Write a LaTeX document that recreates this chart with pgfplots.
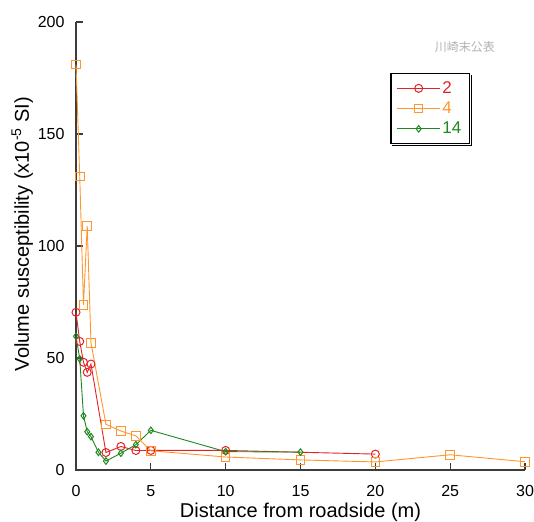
\documentclass[border=0pt]{standalone}
\usepackage{pgfplots}
\pgfplotsset{compat=1.18}
\usepackage{fontspec}
\setmainfont{Liberation Sans}
\newfontfamily\cjk{Noto Sans CJK JP}
\usetikzlibrary{calc}

\definecolor{cred}{RGB}{225,35,40}
\definecolor{corange}{RGB}{255,150,45}
\definecolor{cgreen}{RGB}{30,135,30}
\definecolor{caxis}{RGB}{60,60,60}

\begin{document}
\begin{tikzpicture}
\begin{axis}[
  name=ax,
  scale only axis,
  width=449pt, height=448pt,
  xmin=0, xmax=30, ymin=0, ymax=200,
  axis line style={draw=none},
  xtick pos=left, ytick pos=left,
  xtick={0,5,...,30}, ytick={0,50,...,200},
  major tick length=0pt,
  ticklabel style={font=\fontsize{16}{18}\selectfont},
  xticklabel style={anchor=north, yshift=-12pt},
  yticklabel style={anchor=east, xshift=-8pt},
  /pgf/number format/assume math mode=true,
  xlabel={Distance from roadside (m)},
  ylabel={Volume susceptibility (x10\textsuperscript{-5} SI)},
  label style={font=\fontsize{20}{23}\selectfont},
  xlabel style={yshift=1pt},
  ylabel style={yshift=-2pt, xshift=12pt},
  clip=false,
  legend cell align=left,
  legend style={name=leg, at={(0.70,0.886)}, anchor=north west,
    draw=black, line width=1.2pt, fill=white,
    font=\fontsize{17}{19}\selectfont,
    row sep=3pt, inner xsep=6pt, inner ysep=6pt},
  legend image code/.code={
    \draw[mark repeat=2,mark phase=2,line width=0.9pt] plot coordinates {(0cm,0cm) (0.75cm,0cm) (1.5cm,0cm)};
  },
]
\draw[caxis, line width=1.4pt] (axis cs:0,200) -- (axis cs:0,0) -- (axis cs:30,0);
\pgfplotsinvokeforeach{0,5,10,15,20,25,30}{
  \draw[caxis, line width=1.3pt] (axis cs:#1,0) -- (axis cs:#1,3.2);
}
\pgfplotsinvokeforeach{0,50,100,150,200}{
  \draw[caxis, line width=1.3pt] (axis cs:0,#1) -- (axis cs:0.47,#1);
}
\addplot[cred, line width=0.9pt, mark=o, mark size=4pt, mark options={line width=1pt}] coordinates {
  (0,70.4) (0.25,57.4) (0.5,48.1) (0.75,43.6) (1,47.3) (2,7.8) (3,10.5)
  (4,8.7) (5,8.75) (10,8.75) (20,7.1)
};
\addlegendentry{\textcolor{cred}{2}}
\addplot[corange, line width=0.9pt, mark=square, mark size=4.3pt, mark options={line width=1pt}] coordinates {
  (0,181) (0.25,131) (0.5,73.7) (0.75,109) (1,56.8) (2,20.4) (3,17.4)
  (4,15.2) (5,8.6) (10,5.8) (15,4.5) (20,3.6) (25,6.8) (30,3.7)
};
\addlegendentry{\textcolor{corange}{4}}
\addplot[cgreen, line width=0.9pt, mark=diamond, mark size=3.3pt, mark options={line width=1pt}] coordinates {
  (0,59.7) (0.25,49.6) (0.5,24.2) (0.75,17.1) (1,14.9) (1.5,7.9) (2,4.0)
  (3,7.5) (4,11.3) (5,17.7) (10,8.2) (15,8.0)
};
\addlegendentry{\textcolor{cgreen}{14}}
\node[text=black!30, font=\cjk\fontsize{12}{14}\selectfont] at (rel axis cs:0.866,0.944) {川崎末公表};
\end{axis}
\draw[black, line width=1.6pt] ([xshift=1.4pt,yshift=-2pt]leg.north east) -- ([xshift=1.4pt,yshift=-1.4pt]leg.south east) -- ([xshift=2pt,yshift=-1.4pt]leg.south west);
\pgfresetboundingbox
\path ($(ax.south west)+(-76pt,-51pt)$) rectangle ($(ax.north east)+(9pt,22pt)$);
\end{tikzpicture}
\end{document}
